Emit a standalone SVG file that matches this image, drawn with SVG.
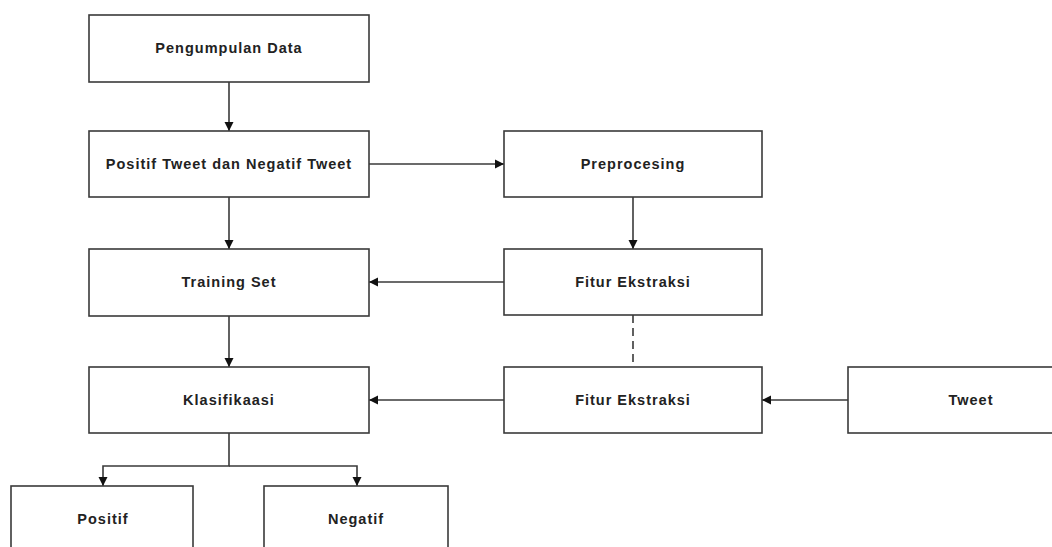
<svg xmlns="http://www.w3.org/2000/svg" width="1052" height="547" viewBox="0 0 1052 547">
<style>
.box{fill:#fff;stroke:#3a3a3a;stroke-width:1.6}
.lbl{font-family:"Liberation Sans",Arial,sans-serif;font-weight:bold;font-size:14.5px;letter-spacing:1px;fill:#222;text-anchor:middle;dominant-baseline:central}
.con{fill:none;stroke:#3a3a3a;stroke-width:1.6}
.dash{stroke-dasharray:8,5}
</style>
<defs>
<marker id="arr" viewBox="0 0 10 10" refX="10" refY="5" markerWidth="9" markerHeight="10" markerUnits="userSpaceOnUse" orient="auto">
<path d="M0,0 L10,5 L0,10 Z" fill="#111"/>
</marker>
</defs>
<rect width="1052" height="547" fill="#fff"/>
<g id="connectors">
<line class="con" x1="229" y1="82" x2="229" y2="131" marker-end="url(#arr)"/>
<line class="con" x1="369" y1="164" x2="504" y2="164" marker-end="url(#arr)"/>
<line class="con" x1="229" y1="197" x2="229" y2="249" marker-end="url(#arr)"/>
<line class="con" x1="633" y1="197" x2="633" y2="249" marker-end="url(#arr)"/>
<line class="con" x1="504" y1="282" x2="369" y2="282" marker-end="url(#arr)"/>
<line class="con dash" x1="633" y1="315" x2="633" y2="367"/>
<line class="con" x1="229" y1="316" x2="229" y2="367" marker-end="url(#arr)"/>
<line class="con" x1="504" y1="400" x2="369" y2="400" marker-end="url(#arr)"/>
<line class="con" x1="848" y1="400" x2="762" y2="400" marker-end="url(#arr)"/>
<polyline class="con" points="229,433 229,466 103,466 103,486" marker-end="url(#arr)"/>
<polyline class="con" points="229,466 357,466 357,486" marker-end="url(#arr)"/>
</g>
<g id="n-pengumpulan"><rect class="box" x="89" y="15" width="280" height="67"/><text class="lbl" x="229" y="48">Pengumpulan Data</text></g>
<g id="n-positif-negatif"><rect class="box" x="89" y="131" width="280" height="66"/><text class="lbl" x="229" y="164">Positif Tweet dan Negatif Tweet</text></g>
<g id="n-training"><rect class="box" x="89" y="249" width="280" height="67"/><text class="lbl" x="229" y="282">Training Set</text></g>
<g id="n-klasifikasi"><rect class="box" x="89" y="367" width="280" height="66"/><text class="lbl" x="229" y="400">Klasifikaasi</text></g>
<g id="n-preprocesing"><rect class="box" x="504" y="131" width="258" height="66"/><text class="lbl" x="633" y="164">Preprocesing</text></g>
<g id="n-fitur1"><rect class="box" x="504" y="249" width="258" height="66"/><text class="lbl" x="633" y="282">Fitur Ekstraksi</text></g>
<g id="n-fitur2"><rect class="box" x="504" y="367" width="258" height="66"/><text class="lbl" x="633" y="400">Fitur Ekstraksi</text></g>
<g id="n-tweet"><rect class="box" x="848" y="367" width="220" height="66"/><text class="lbl" x="971" y="400">Tweet</text></g>
<g id="n-positif"><rect class="box" x="11" y="486" width="182" height="80"/><text class="lbl" x="103" y="519">Positif</text></g>
<g id="n-negatif"><rect class="box" x="264" y="486" width="184" height="80"/><text class="lbl" x="356" y="519">Negatif</text></g>
</svg>
